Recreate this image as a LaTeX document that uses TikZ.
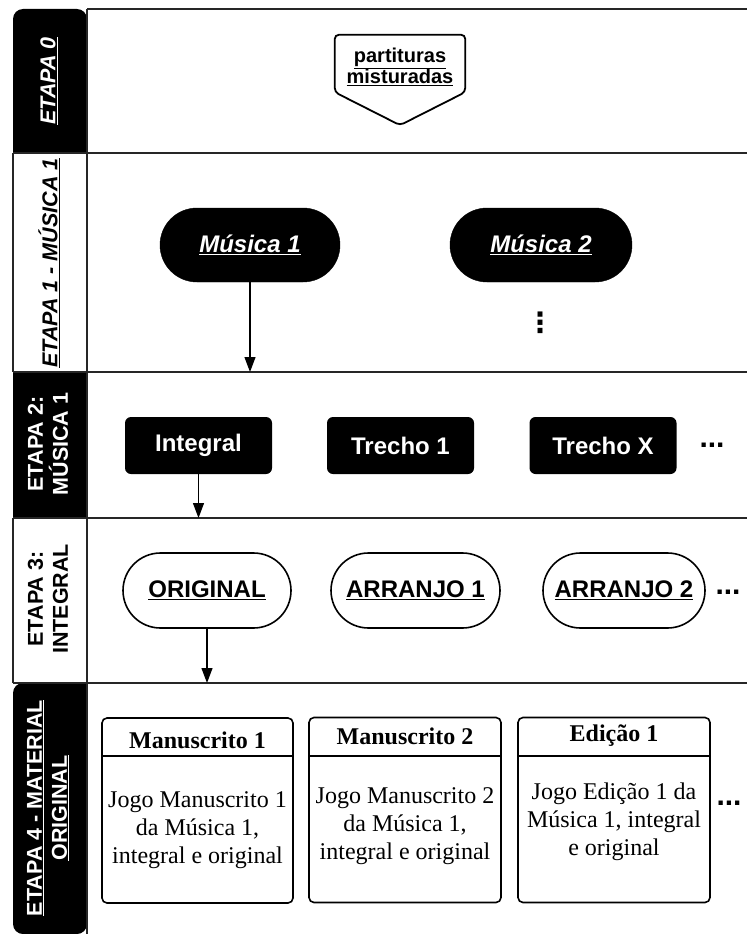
\documentclass[tikz,border=0pt]{standalone}
\usepackage{fontspec}
\setmainfont{Liberation Serif}
\newfontfamily\arial{Liberation Sans}
\newfontfamily\dejavu{DejaVu Sans}
\usetikzlibrary{shapes.misc,arrows.meta}
\begin{document}
\begin{tikzpicture}[x=1pt,y=-1pt,
  laneline/.style={line width=1.6pt, draw=black!85},
  lanelabw/.style={rotate=90, text=white, align=center, font=\arial\bfseries\fontsize{21.5}{25}\selectfont},
  lanelabk/.style={rotate=90, text=black, align=center, font=\arial\bfseries\fontsize{21.5}{25}\selectfont},
  blackpill/.style={rounded rectangle, fill=black, draw=black, minimum height=74pt, inner sep=0pt, text=white, font=\arial\bfseries\itshape\fontsize{24}{28}\selectfont},
  whitepill/.style={rounded rectangle, draw=black, line width=1.6pt, fill=white, minimum height=75pt, inner sep=0pt, font=\arial\bfseries\fontsize{24}{28}\selectfont},
  blackbox/.style={rectangle, rounded corners=6pt, fill=black, minimum width=147pt, minimum height=57pt, text=white, font=\arial\bfseries\fontsize{24}{28}\selectfont},
  docbox/.style={rectangle, rounded corners=5pt, draw=black, line width=1.6pt, minimum width=191pt, minimum height=185pt, inner sep=0pt},
  dochead/.style={font=\bfseries\fontsize{24}{28}\selectfont},
  docbody/.style={align=center, font=\fontsize{24}{28}\selectfont},
  more/.style={font=\arial\bfseries\fontsize{30}{30}\selectfont, inner sep=0pt},
  arr/.style={-{Triangle[length=15pt,width=11pt]}, line width=1.2pt}
]
\useasboundingbox (0,0) rectangle (747,934);

% ---- left column fills
\fill[black] (13,153) {[rounded corners=10pt] -- (13,9) -- (87,9)} -- (87,153) -- cycle;
\fill[black] (13,372) rectangle (87,518);
\fill[black] (87,683) {[rounded corners=10pt] -- (13,683) -- (13,934) -- (87,934)} -- cycle;

% ---- lane lines
\draw[laneline, line width=2pt] (87,9) -- (747,9);
\draw[laneline] (13,153) -- (747,153);
\draw[laneline] (13,372) -- (747,372);
\draw[laneline] (13,518) -- (747,518);
\draw[laneline] (13,683) -- (747,683);
\draw[laneline] (87,9) -- (87,934);
\draw[laneline] (13,153) -- (13,372);
\draw[laneline] (13,518) -- (13,683);

% ---- lane labels
\node[lanelabw, font=\arial\bfseries\itshape\fontsize{21.5}{25}\selectfont] (l0) at (49,81) {\underline{ETAPA 0}};
\node[lanelabk, font=\arial\bfseries\itshape\fontsize{21.5}{25}\selectfont] (l1) at (49,263) {\underline{ETAPA 1 - MÚSICA 1}};
\node[lanelabw] (l2) at (48,444) {ETAPA 2:\\MÚSICA 1};
\node[lanelabk] (l3) at (48,599) {ETAPA 3:\\INTEGRAL};
\node[lanelabw] (l4) at (48,808) {\underline{ETAPA 4 - MATERIAL}\\\underline{ORIGINAL}};

% ---- Etapa 0: off-page connector
\node[minimum width=130pt, minimum height=90pt, inner sep=0pt] (part) at (400,80) {};
\draw[line width=1.8pt, rounded corners=4pt]
  (part.north west) -- (part.north east) -- ([yshift=33pt]part.south east)
  -- (part.south) -- ([yshift=33pt]part.south west) -- cycle;
\node[align=center, font=\arial\bfseries\fontsize{20}{20}\selectfont] (parttxt) at (400,67) {\underline{partituras}\\\underline{misturadas}};

% ---- Etapa 1
\node[blackpill, minimum width=180pt] (mus1) at (250,245) {\underline{Música 1}};
\node[blackpill, minimum width=182pt] (mus2) at (541,245) {\underline{Música 2}};
\node[inner sep=0pt, font=\dejavu\bfseries\fontsize{28}{28}\selectfont] (vdots) at (540,323) {⋮};
\coordinate (a1end) at (250,372);
\draw[arr] (mus1.south) -- (a1end);

% ---- Etapa 2
\node[blackbox] (integral) at (198.5,445.5) {Integral};
\node[blackbox] (trecho1) at (400.5,445.5) {Trecho 1};
\node[blackbox] (trechox) at (603,445.5) {Trecho X};
\node[more] (more2) at (712,445) {...};
\coordinate (a2end) at (198.5,518);
\draw[arr] (integral.south) -- (a2end);

% ---- Etapa 3
\node[whitepill, minimum width=168pt] (orig) at (207,590.5) {\underline{ORIGINAL}};
\node[whitepill, minimum width=169pt] (arr1) at (415.5,590.5) {\underline{ARRANJO 1}};
\node[whitepill, minimum width=162pt] (arr2) at (624,590.5) {\underline{ARRANJO 2}};
\node[more] (more3) at (728,592) {...};
\coordinate (a3end) at (207,683);
\draw[arr] (orig.south) -- (a3end);

% ---- Etapa 4
\node[docbox] (ms1) at (197.5,810.5) {};
\node[docbox, minimum width=192pt] (ms2) at (405,810) {};
\node[docbox, minimum width=192pt] (ed1) at (614,810) {};
\foreach \b in {ms1,ms2,ed1}{
  \draw[line width=1.6pt] ([yshift=-39pt]\b.north west) -- ([yshift=-39pt]\b.north east);
}
\node[dochead] (ms1h) at (197.5,740) {Manuscrito 1};
\node[dochead] (ms2h) at (405,736) {Manuscrito 2};
\node[dochead] (ed1h) at (614,736) {Edição 1};
\node[docbody] (ms1b) at (197.5,830) {Jogo Manuscrito 1\\da Música 1,\\integral e original};
\node[docbody] (ms2b) at (405,826) {Jogo Manuscrito 2\\da Música 1,\\integral e original};
\node[docbody] (ed1b) at (614,822) {Jogo Edição 1 da\\Música 1, integral\\e original};
\node[more] (more4) at (729,803) {...};
\end{tikzpicture}
\end{document}
